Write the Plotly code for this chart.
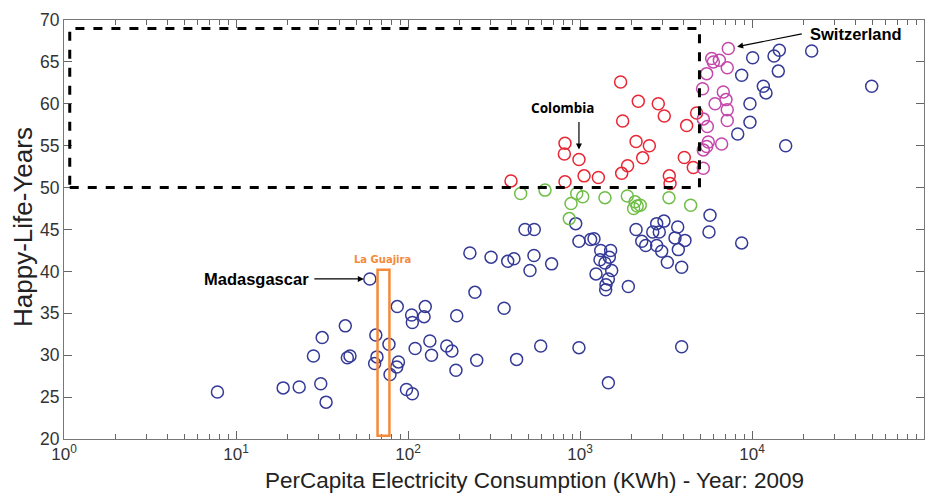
import math
import plotly.graph_objects as go

# ---------------- data (PerCapita KWh, Happy-Life-Years) ----------------
blue_x = [7.8, 18.8, 23.3, 31.1, 33.4, 28.2, 31.7, 43.2, 44.4, 46, 60, 65, 66, 64,
          77.5, 78.6, 86.6, 88, 86, 105, 106, 110, 98, 106, 126, 124, 134, 137, 168,
          180, 190, 192, 229, 245, 251, 304, 380, 413, 540, 512, 684, 479, 542, 362,
          428, 591, 986, 1462, 3900, 986, 944, 1153, 1206, 1320, 1507, 1307, 1480,
          1397, 1528, 1239, 1462, 1416, 1410, 1910, 2118, 2286, 2411, 2792, 3077,
          2649, 2890, 2792, 2985, 3219, 3567, 3730, 3900, 3700, 4075, 5700, 5623,
          8710, 10090, 13430, 14420, 22230, 8710, 14220, 11640, 12060, 9730, 9730,
          8260, 15700, 49650]
blue_y = [25.6, 26.1, 26.2, 26.6, 24.4, 29.9, 32.1, 33.5, 29.7, 29.9, 39.1, 32.4,
          29.8, 29.0, 31.3, 27.7, 35.8, 29.2, 28.6, 34.8, 33.9, 30.8, 25.9, 25.4,
          35.8, 34.6, 31.7, 30.0, 31.1, 30.5, 28.2, 34.7, 42.2, 37.5, 29.4, 41.7,
          41.2, 41.5, 41.9, 40.1, 40.9, 45.0, 45.0, 35.6, 29.5, 31.1, 30.9, 26.7,
          31.0, 43.6, 45.7, 43.8, 43.9, 42.5, 42.5, 41.4, 41.7, 41.0, 40.1, 39.7,
          39.1, 38.4, 37.8, 38.2, 45.0, 43.6, 43.1, 45.7, 46.0, 44.7, 44.7, 43.1,
          42.4, 41.1, 44.0, 42.6, 40.5, 45.3, 43.7, 46.7, 44.7, 43.4, 65.5, 65.7,
          66.4, 66.3, 63.4, 63.9, 62.1, 61.3, 60.0, 57.8, 56.4, 55.0, 62.1]

green_x = [452, 626, 957, 1037, 887, 866, 1397, 1884, 2089, 2150, 2240, 2050, 3290, 4400]
green_y = [49.3, 49.7, 49.3, 48.9, 48.1, 46.3, 48.8, 49.0, 48.3, 47.8, 47.9, 47.5, 48.8, 47.9]

red_x = [1722, 2182, 2852, 3090, 1770, 4170, 4764, 818, 811, 986, 2118, 2530, 2314,
         1891, 1747, 4040, 4557, 397, 818, 1056, 1279, 3305, 3338]
red_y = [62.6, 60.3, 60.0, 58.55, 57.95, 57.4, 58.9, 55.3, 54.0, 53.35, 55.5, 55.0,
         53.55, 52.6, 51.7, 53.6, 52.4, 50.8, 50.7, 51.4, 51.2, 51.4, 50.5]

magenta_x = [7280, 5830, 5960, 6460, 7180, 5450, 5160, 6810, 7060, 6100, 7180, 7180,
             5210, 5500, 5570, 5450, 6660, 5210, 5210]
magenta_y = [66.6, 65.4, 65.0, 65.2, 64.3, 63.6, 61.8, 61.4, 60.5, 60.0, 59.3, 58.0,
             58.2, 57.3, 55.45, 54.9, 55.2, 54.5, 52.3]

# labelled countries (index into their series)
MADAGASCAR = (blue_x[10], blue_y[10])
COLOMBIA = (red_x[9], red_y[9])
SWITZERLAND = (magenta_x[0], magenta_y[0])

# highlighted regions
target_box_x = [1.08, 4950]
target_box_y = [50, 69]
guajira_x = [66.5, 78]
guajira_y = [20.4, 40.2]

x_tick_exponents = [0, 1, 2, 3, 4, 5]
y_ticks = [20, 25, 30, 35, 40, 45, 50, 55, 60, 65, 70]

# ---------------- figure ----------------
BLUE = "rgb(52,58,150)"
RED = "rgb(232,38,52)"
GREEN = "rgb(112,190,72)"
MAGENTA = "rgb(196,72,172)"
ORANGE = "rgb(245,138,58)"

# page body has an 8px margin, so the figure is sized to fit the 935x494 window
OFF = 8
FIG_W, FIG_H = 935 - OFF, 494 - OFF
# desired plot area in window pixels
WL, WR, WT, WB = 64, 924, 19.5, 439.5
PLOT_L, PLOT_T = WL - OFF, WT - OFF
PLOT_R = FIG_W - (WR - OFF)
PLOT_B = FIG_H - (WB - OFF)
PLOT_W = WR - WL
PLOT_H = WB - WT

fig = go.Figure()


def add_series(xs, ys, color):
    fig.add_trace(go.Scatter(
        x=xs, y=ys, mode="markers",
        marker=dict(symbol="circle-open", size=12, color=color,
                    line=dict(width=1.5, color=color)),
        showlegend=False, hoverinfo="x+y"))


add_series(blue_x, blue_y, BLUE)
add_series(green_x, green_y, GREEN)
add_series(red_x, red_y, RED)
add_series(magenta_x, magenta_y, MAGENTA)

fig.add_shape(type="rect", xref="x", yref="y",
              x0=target_box_x[0], x1=target_box_x[1], y0=target_box_y[0], y1=target_box_y[1],
              line=dict(color="black", width=3, dash="dash"), layer="above")
fig.add_shape(type="rect", xref="x", yref="y",
              x0=guajira_x[0], x1=guajira_x[1], y0=guajira_y[0], y1=guajira_y[1],
              line=dict(color=ORANGE, width=2.5), layer="above")

minor_vals = [m * 10 ** e for e in x_tick_exponents[:-1] for m in range(2, 10)]

fig.update_xaxes(
    type="log", range=[0, 5], automargin=False,
    tickvals=[10 ** e for e in x_tick_exponents],
    ticktext=["10<sup>%d</sup>" % e for e in x_tick_exponents],
    ticks="inside", ticklen=8, tickcolor="#666", mirror="ticks",
    showline=True, linecolor="#777", linewidth=1, showgrid=False, zeroline=False,
    minor=dict(ticks="inside", ticklen=5, tickcolor="#666", tickvals=minor_vals, showgrid=False),
    tickfont=dict(family="Liberation Sans, Arial", size=17, color="#333"),
)
fig.update_yaxes(
    range=[20, 70], tickvals=y_ticks, automargin=False,
    ticks="inside", ticklen=8, tickcolor="#666", mirror="ticks",
    showline=True, linecolor="#777", linewidth=1, showgrid=False, zeroline=False,
    tickfont=dict(family="Liberation Sans, Arial", size=17.5, color="#333"),
)

ann = []
# axis titles (positions given in window pixels, converted to paper units)
ann.append(dict(xref="paper", yref="paper", x=(534 - WL) / PLOT_W,
                y=-(481 - WB) / PLOT_H,
                text="PerCapita Electricity Consumption (KWh) - Year: 2009", showarrow=False,
                font=dict(family="Liberation Sans, Arial", size=22.5, color="#222"),
                xanchor="center", yanchor="middle"))
ann.append(dict(xref="paper", yref="paper", x=-(WL - 23) / PLOT_W,
                y=(WB - 227) / PLOT_H,
                text="Happy-Life-Years", showarrow=False, textangle=-90,
                font=dict(family="Liberation Sans, Arial", size=26, color="#222"),
                xanchor="center", yanchor="middle"))
# labels
lbl_font = dict(family="Liberation Sans, Arial", size=16.5, color="black")
ann.append(dict(x=math.log10(13.07), y=39.1, text="<b>Madasgascar</b>", showarrow=False,
                font=lbl_font, xanchor="center", yanchor="middle"))
ann.append(dict(x=math.log10(39990), y=68.36, text="<b>Switzerland</b>", showarrow=False,
                font=lbl_font, xanchor="center", yanchor="middle"))
ann.append(dict(x=math.log10(796), y=59.55, text="<b>Colombia</b>", showarrow=False,
                font=dict(family="Noto Sans", size=13.5, color="black"),
                xanchor="center", yanchor="middle"))
ann.append(dict(x=math.log10(71.5), y=41.45, text="<b>La Guajira</b>", showarrow=False,
                font=dict(family="DejaVu Sans", size=10, color=ORANGE),
                xanchor="center", yanchor="middle"))
# arrows
arrow = dict(text="", showarrow=True, arrowhead=2, arrowsize=1, arrowwidth=1.2,
             arrowcolor="black", axref="pixel", ayref="pixel")
ann.append(dict(arrow, x=math.log10(MADAGASCAR[0]), y=MADAGASCAR[1], ax=-57, ay=0, standoff=6))
ann.append(dict(arrow, x=math.log10(COLOMBIA[0]), y=COLOMBIA[1], ax=0, ay=-39, standoff=10))
ann.append(dict(arrow, x=math.log10(SWITZERLAND[0]), y=SWITZERLAND[1], ax=75, ay=-15, standoff=9))

fig.update_layout(
    width=FIG_W, height=FIG_H,
    margin=dict(l=PLOT_L, r=PLOT_R, t=PLOT_T, b=PLOT_B, autoexpand=False),
    paper_bgcolor="white", plot_bgcolor="white",
    annotations=ann,
)

fig.write_html("out.html")
